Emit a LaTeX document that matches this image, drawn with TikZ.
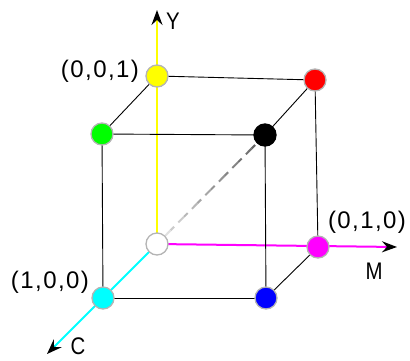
\documentclass[tikz,border=0pt]{standalone}
\usepackage{fontspec}
\setmainfont{Liberation Sans}
\usetikzlibrary{arrows.meta,calc}
\definecolor{pyellow}{RGB}{255,255,0}
\definecolor{pred}{RGB}{255,0,0}
\definecolor{pgreen}{RGB}{0,255,0}
\definecolor{pblue}{RGB}{0,0,255}
\definecolor{pcyan}{RGB}{0,255,255}
\definecolor{pmagenta}{RGB}{255,0,255}
\definecolor{prim}{RGB}{180,180,180}
\begin{document}
\begin{tikzpicture}[x=1pt,y=-1pt,
  dot/.style={circle,draw=prim,line width=1.3pt,minimum size=22pt,inner sep=0pt},
  edge/.style={black,line width=0.9pt},
  axis/.style={line width=2pt},
  tip/.style={-{Stealth[black,length=15pt,width=11pt,inset=5pt]}},
  lab/.style={font=\fontsize{24}{28}\selectfont\addfontfeature{LetterSpace=6},inner sep=0pt},
  axlab/.style={font=\fontsize{24}{28}\selectfont,inner sep=0pt,xscale=0.85}]
\useasboundingbox (0,0) rectangle (410,360);
% coordinates of cube corners
\coordinate (Wp) at (157,244);
\coordinate (Yp) at (157,76);
\coordinate (Rp) at (315,80);
\coordinate (Gp) at (102,134);
\coordinate (Kp) at (265,135);
\coordinate (Mp) at (318,247);
\coordinate (Cp) at (103,298);
\coordinate (Bp) at (266,298);
\coordinate (Ytip) at (157,10);
\coordinate (Mtip) at (397,247);
\coordinate (Ctip) at (47,354);
% axes
\draw[axis,pyellow,tip] (Wp) -- (Ytip);
\draw[axis,pmagenta,tip] (Wp) -- (Mtip);
\draw[axis,pcyan,tip] (Wp) -- (Ctip);
% edges
\draw[edge] (Yp) -- (Rp);
\draw[edge] (Yp) -- (Gp);
\draw[edge] (Gp) -- (Kp);
\draw[edge] (Rp) -- (Kp);
\draw[edge] (Gp) -- (Cp);
\draw[edge] (Kp) -- (Bp);
\draw[edge] (Rp) -- (Mp);
\draw[edge] (Cp) -- (Bp);
\draw[edge] (Bp) -- (Mp);
% hidden diagonal, fading
\foreach \i/\c in {0/60,1/55,2/48,3/42,4/35,5/28,6/20,7/12}{
  \draw[black!\c,line width=2pt,dash pattern=on 8pt off 6pt,dash phase=0pt]
    ($(Kp)!\i/8!(Wp)$) -- ($(Kp)!\i/8+1/8!(Wp)$);
}
% dots
\node[dot,fill=pyellow] (Y) at (Yp) {};
\node[dot,fill=pred] (R) at (Rp) {};
\node[dot,fill=pgreen] (G) at (Gp) {};
\node[dot,fill=black,draw=black] (K) at (Kp) {};
\node[dot,fill=white] (W) at (Wp) {};
\node[dot,fill=pmagenta] (M) at (Mp) {};
\node[dot,fill=pcyan] (C) at (Cp) {};
\node[dot,fill=pblue] (B) at (Bp) {};
% labels
\node[lab] (l1) at (100,71) {(0,0,1)};
\node[lab] (l2) at (50,282) {(1,0,0)};
\node[lab] (l3) at (367,222) {(0,1,0)};
\node[axlab] (ly) at (173,21) {Y};
\node[axlab] (lm) at (374,271) {M};
\node[axlab] (lc) at (78,346) {C};
\end{tikzpicture}
\end{document}
